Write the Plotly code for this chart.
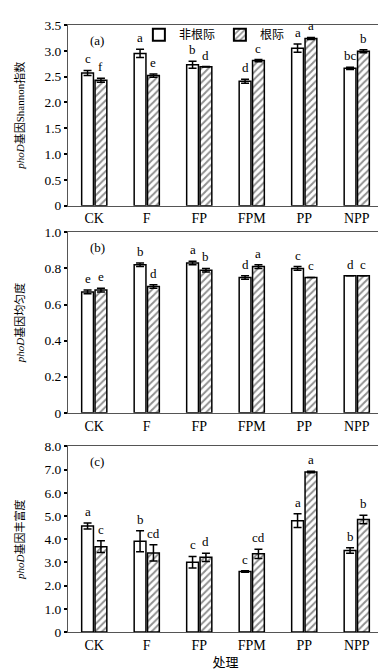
import plotly.graph_objects as go
from plotly.subplots import make_subplots

categories = ["CK", "F", "FP", "FPM", "PP", "NPP"]
series_names = ["非根际", "根际"]

# (a) Shannon index
shannon_non = [2.57, 2.95, 2.73, 2.41, 3.05, 2.66]
shannon_non_err = [0.05, 0.08, 0.07, 0.04, 0.08, 0.02]
shannon_rhz = [2.43, 2.52, 2.69, 2.81, 3.24, 2.99]
shannon_rhz_err = [0.04, 0.03, 0.005, 0.02, 0.02, 0.03]
shannon_non_lbl = ["c", "a", "b", "d", "a", "bc"]
shannon_rhz_lbl = ["f", "e", "d", "c", "a", "b"]

# (b) evenness
even_non = [0.67, 0.82, 0.83, 0.75, 0.80, 0.76]
even_non_err = [0.01, 0.01, 0.01, 0.01, 0.01, 0.0]
even_rhz = [0.68, 0.70, 0.79, 0.81, 0.75, 0.76]
even_rhz_err = [0.01, 0.01, 0.01, 0.01, 0.0, 0.0]
even_non_lbl = ["e", "b", "a", "d", "c", "d"]
even_rhz_lbl = ["e", "d", "b", "a", "c", "c"]

# (c) richness
rich_non = [4.57, 3.91, 3.01, 2.61, 4.80, 3.51]
rich_non_err = [0.13, 0.45, 0.25, 0.03, 0.30, 0.12]
rich_rhz = [3.68, 3.41, 3.22, 3.37, 6.90, 4.85]
rich_rhz_err = [0.25, 0.35, 0.18, 0.20, 0.03, 0.18]
rich_non_lbl = ["a", "b", "c", "c", "a", "b"]
rich_rhz_lbl = ["c", "cd", "d", "cd", "a", "b"]

yticks_a = [0, 0.5, 1.0, 1.5, 2.0, 2.5, 3.0, 3.5]
yticktext_a = ["0", "0.5", "1.0", "1.5", "2.0", "2.5", "3.0", "3.5"]
yticks_b = [0, 0.2, 0.4, 0.6, 0.8, 1.0]
yticktext_b = ["0", "0.2", "0.4", "0.6", "0.8", "1.0"]
yticks_c = [0, 1, 2, 3, 4, 5, 6, 7, 8]
yticktext_c = ["0", "1.0", "2.0", "3.0", "4.0", "5.0", "6.0", "7.0", "8.0"]

ytitles = ["<i>phoD</i>基因Shannon指数", "<i>phoD</i>基因均匀度", "<i>phoD</i>基因丰富度"]
panel_labels = ["(a)", "(b)", "(c)"]
xtitle = "处理"

FONT = "Liberation Serif, Times New Roman, Noto Sans CJK SC, serif"

panels = [
    (shannon_non, shannon_non_err, shannon_rhz, shannon_rhz_err, shannon_non_lbl, shannon_rhz_lbl, yticks_a, yticktext_a),
    (even_non, even_non_err, even_rhz, even_rhz_err, even_non_lbl, even_rhz_lbl, yticks_b, yticktext_b),
    (rich_non, rich_non_err, rich_rhz, rich_rhz_err, rich_non_lbl, rich_rhz_lbl, yticks_c, yticktext_c),
]

fig = make_subplots(rows=3, cols=1, vertical_spacing=0.05)

bargap = 0.49
slot = (1 - bargap) / 2
offsets = [-slot / 2, slot / 2]

for r, (nv, ne, rv, re, nl, rl, tv, tt) in enumerate(panels, start=1):
    fig.add_trace(go.Bar(
        x=categories, y=nv, name=series_names[0],
        marker=dict(color="white", line=dict(color="black", width=1.5)),
        error_y=dict(type="data", array=ne, color="black", thickness=1.5, width=4),
        showlegend=(r == 1), legendgroup="non",
    ), row=r, col=1)
    fig.add_trace(go.Bar(
        x=categories, y=rv, name=series_names[1],
        marker=dict(color="white", line=dict(color="black", width=1.5),
                    pattern=dict(shape="/", fgcolor="#222", bgcolor="white", size=5, solidity=0.4)),
        error_y=dict(type="data", array=re, color="black", thickness=1.5, width=4),
        showlegend=(r == 1), legendgroup="rhz",
    ), row=r, col=1)
    xref = "x" if r == 1 else f"x{r}"
    yref = "y" if r == 1 else f"y{r}"
    for s, (vals, errs, lbls) in enumerate([(nv, ne, nl), (rv, re, rl)]):
        for i, (v, e, t) in enumerate(zip(vals, errs, lbls)):
            fig.add_annotation(x=i + offsets[s], y=v + e, xref=xref, yref=yref,
                               text=t, showarrow=False, yanchor="bottom", yshift=2,
                               font=dict(family=FONT, size=13, color="black"))
    fig.add_annotation(x=0.065, y=tv[-1], xref=f"{xref} domain", yref=yref,
                       text=panel_labels[r - 1], showarrow=False, xanchor="left",
                       yanchor="top", yshift=-6,
                       font=dict(family=FONT, size=13, color="black"))
    fig.update_yaxes(row=r, col=1, range=[0, tv[-1]], tickvals=tv, ticktext=tt,
                     ticks="outside", ticklen=3, tickwidth=1.5, tickcolor="black",
                     tickfont=dict(family=FONT, size=13.5),
                     showline=True, linecolor="#555", linewidth=1, mirror=True,
                     showgrid=False, zeroline=False,
                     title=dict(text=ytitles[r - 1], font=dict(family=FONT, size=11), standoff=17))
    fig.update_xaxes(row=r, col=1, range=[-0.5, 5.5], showline=True, linecolor="#555",
                     linewidth=1, mirror=True, ticks="", showgrid=False,
                     tickfont=dict(family=FONT, size=14))

fig.update_xaxes(row=3, col=1, title=dict(text=xtitle, font=dict(family=FONT, size=13), standoff=6))

# domains
fig.update_layout(
    yaxis=dict(domain=[0.7024, 1.0]),
    yaxis2=dict(domain=[0.361, 0.6585]),
    yaxis3=dict(domain=[0.0, 0.3057]),
)

fig.update_layout(
    width=386, height=670,
    margin=dict(l=60, r=10, t=17, b=38),
    barmode="group", bargap=bargap, bargroupgap=0.12,
    plot_bgcolor="white", paper_bgcolor="white",
    font=dict(family=FONT, size=13, color="black"),
    legend=dict(orientation="h", x=0.225, y=0.984, xanchor="left", yanchor="middle",
                bgcolor="rgba(0,0,0,0)", font=dict(family=FONT, size=12),
                itemwidth=30, tracegroupgap=0, itemsizing="constant"),
)

fig.write_html("out.html")
